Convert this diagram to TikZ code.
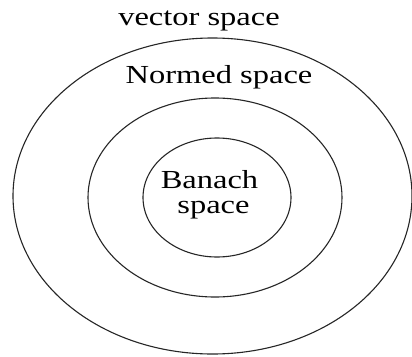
\documentclass[tikz,border=0pt]{standalone}
\usepackage{fontspec}
\setmainfont{Liberation Serif}
\begin{document}
\begin{tikzpicture}[x=1pt,y=-1pt,
  ring/.style={draw=black!85,line width=1.1pt},
  label/.style={anchor=base,inner sep=0pt,xscale=1.25,
    font=\fontsize{26}{30}\selectfont}]
\useasboundingbox[fill=white] (0,0) rectangle (412,356);
% nested spaces
\draw[ring] (212.5,196) ellipse [x radius=199.5,y radius=158];
\draw[ring] (215,197.5) ellipse [x radius=127,y radius=99.5];
\draw[ring] (217,197.5) ellipse [x radius=74,y radius=59.5];
% labels
\node[label] (vec) at (199,25.7) {vector space};
\node[label] (norm) at (219,83.3) {Normed space};
\node[label] (ban) at (209.5,188.3) {Banach};
\node[label] (banb) at (213.5,213.3) {space};
\end{tikzpicture}
\end{document}
